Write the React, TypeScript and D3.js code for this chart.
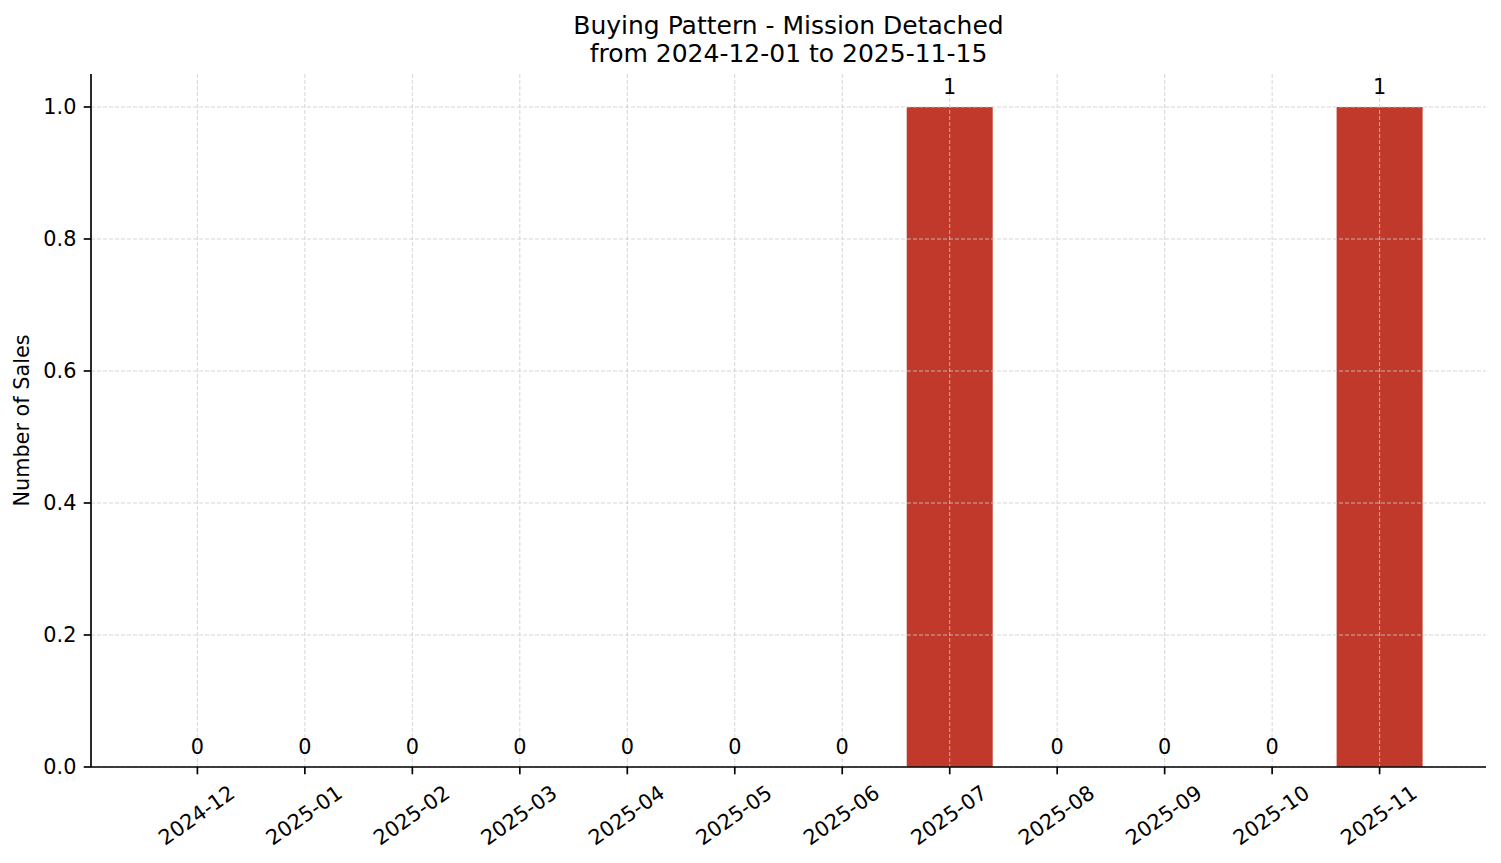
import React from "react";
import * as d3 from "d3";

const months: string[] = [
  "2024-12", "2025-01", "2025-02", "2025-03", "2025-04", "2025-05",
  "2025-06", "2025-07", "2025-08", "2025-09", "2025-10", "2025-11",
];
const sales: number[] = [0, 0, 0, 0, 0, 0, 0, 1, 0, 0, 0, 1];
const yTicks: number[] = [0, 0.2, 0.4, 0.6, 0.8, 1.0];
const titleLines: string[] = ["Buying Pattern - Mission Detached", "from 2024-12-01 to 2025-11-15"];
const yLabel = "Number of Sales";

const W = 1501;
const H = 863;
const left = 91;
const right = 1486;
const top = 74;
const bottom = 767;
const font = "'DejaVu Sans', sans-serif";
const barColor = "#c0392b";

export default function App() {
  const x = d3.scaleLinear().domain([-0.99, months.length - 1 + 0.99]).range([left, right]);
  const y = d3.scaleLinear().domain([0, 1.05]).range([bottom, top]);
  const step = x(1) - x(0);
  const barW = step * 0.8;
  const cx = (left + right) / 2;

  return (
    <svg width={W} height={H} style={{ position: "absolute", left: 0, top: 0, background: "#fff" }} fontFamily={font}>
      <rect x={0} y={0} width={W} height={H} fill="#fff" />
      {/* bars */}
      {sales.map((v, i) => (
        <rect key={"b" + i} x={x(i) - barW / 2} y={y(v)} width={barW} height={y(0) - y(v)} fill={barColor} />
      ))}
      {/* grid */}
      {months.map((m, i) => (
        <line key={"gx" + i} x1={x(i)} x2={x(i)} y1={top} y2={bottom} stroke="#cccccc" strokeOpacity={0.8} strokeWidth={1} strokeDasharray="4,2" />
      ))}
      {yTicks.map((t, i) => (
        <line key={"gy" + i} x1={left} x2={right} y1={y(t)} y2={y(t)} stroke="#cccccc" strokeOpacity={0.8} strokeWidth={1} strokeDasharray="4,2" />
      ))}
      {/* value labels */}
      {sales.map((v, i) => (
        <text key={"v" + i} x={x(i)} y={y(v) - 13} textAnchor="middle" fontSize={20.8} fill="#000">
          {String(v)}
        </text>
      ))}
      {/* spines */}
      <line x1={left} x2={left} y1={top} y2={bottom} stroke="#000" strokeWidth={1.67} />
      <line x1={left} x2={right} y1={bottom} y2={bottom} stroke="#000" strokeWidth={1.67} />
      {/* y ticks */}
      {yTicks.map((t, i) => (
        <g key={"yt" + i}>
          <line x1={left - 7.3} x2={left} y1={y(t)} y2={y(t)} stroke="#000" strokeWidth={1.67} />
          <text x={left - 14.6} y={y(t)} dy="0.36em" textAnchor="end" fontSize={20.8} fill="#000">
            {t.toFixed(1)}
          </text>
        </g>
      ))}
      {/* x ticks */}
      {months.map((m, i) => (
        <g key={"xt" + i}>
          <line x1={x(i)} x2={x(i)} y1={bottom} y2={bottom + 7.3} stroke="#000" strokeWidth={1.67} />
          <text
            transform={`translate(${x(i) - 1},815) rotate(-35)`}
            textAnchor="middle"
            dy="0.36em"
            fontSize={20.8}
            fill="#000"
          >
            {m}
          </text>
        </g>
      ))}
      {/* y label */}
      <text transform={`translate(29,${(top + bottom) / 2}) rotate(-90)`} textAnchor="middle" fontSize={20.8} fill="#000">
        {yLabel}
      </text>
      {/* title */}
      {titleLines.map((l, i) => (
        <text key={"t" + i} x={cx} y={33.5 + i * 28} textAnchor="middle" fontSize={25} fill="#000">
          {l}
        </text>
      ))}
    </svg>
  );
}
